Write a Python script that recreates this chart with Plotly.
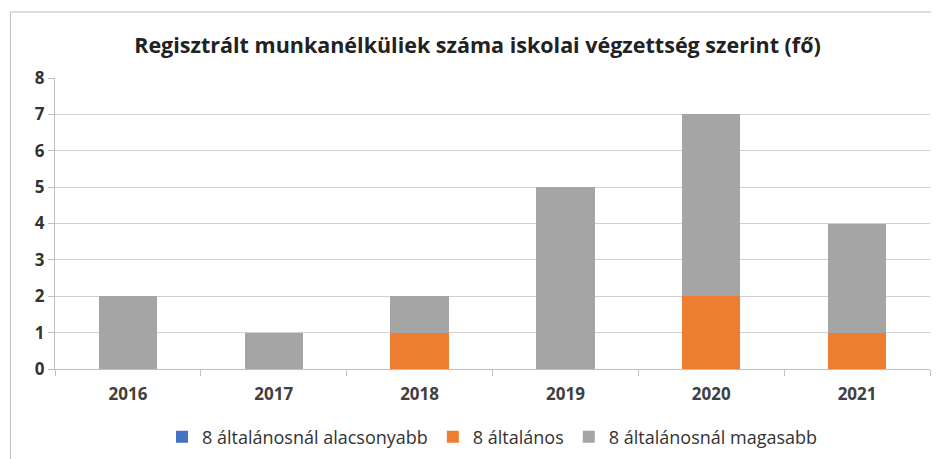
import plotly.graph_objects as go

years = ["2016", "2017", "2018", "2019", "2020", "2021"]
below8 = [0, 0, 0, 0, 0, 0]
elem8 = [0, 0, 1, 0, 2, 1]
above8 = [2, 1, 1, 5, 5, 3]

names = ["8 általánosnál alacsonyabb", "8 általános", "8 általánosnál magasabb"]
colors = ["#4472C4", "#ED7D31", "#A5A5A5"]

fig = go.Figure()
for vals, name, col in zip([below8, elem8, above8], names, colors):
    fig.add_trace(go.Bar(x=years, y=vals, name=name, marker=dict(color=col, line=dict(width=0)), width=0.4))

fig.update_layout(
    barmode="stack",
    width=939, height=459,
    margin=dict(l=47, r=17, t=70, b=98),
    paper_bgcolor="white", plot_bgcolor="white",
    title=dict(text="<b>Regisztrált munkanélküliek száma iskolai végzettség szerint (fő)</b>",
               x=0.5, xanchor="center", y=0.919, yanchor="middle",
               font=dict(family="Open Sans", size=21.5, color="#222222")),
    font=dict(family="Open Sans", color="#404040"),
    legend=dict(orientation="h", x=0.5, xanchor="center", y=-0.234, yanchor="middle",
                font=dict(size=18, color="#333333"), itemwidth=30, traceorder="normal"),
    bargap=0.6,
)
fig.update_yaxes(range=[0, 8], dtick=1, showgrid=True, gridcolor="#D0D0D0", gridwidth=1,
                 showline=True, linecolor="#BFBFBF", ticks="outside", ticklen=6, tickcolor="#BFBFBF",
                 tickfont=dict(size=17, color="#333333", family="Open Sans", weight="bold"), zeroline=False)
fig.update_xaxes(showline=True, linecolor="#BFBFBF", ticks="outside", ticklen=6, tickcolor="#BFBFBF",
                 tickson="boundaries", ticklabelstandoff=10,
                 tickfont=dict(size=17, color="#404040", family="Open Sans", weight="bold"))
# outer chart frame
fig.add_shape(type="rect", xref="paper", yref="paper",
              x0=-0.051, x1=1.006, y0=-0.35, y1=1.227,
              line=dict(color="#BBBBBB", width=1), fillcolor="rgba(0,0,0,0)", layer="below")
fig.write_html("out.html")
